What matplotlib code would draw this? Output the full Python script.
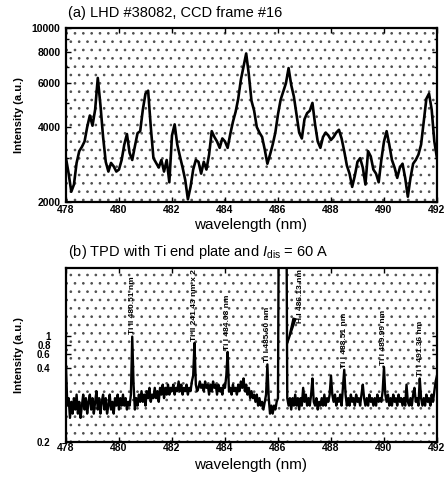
import numpy as np
import matplotlib
matplotlib.use("Agg")
import matplotlib.pyplot as plt
from matplotlib.patches import Rectangle

plt.rcParams['font.family'] = ['Liberation Sans', 'DejaVu Sans']
plt.rcParams['mathtext.fontset'] = 'custom'
plt.rcParams['mathtext.rm'] = 'Liberation Sans'
plt.rcParams['mathtext.it'] = 'Liberation Sans:italic'
plt.rcParams['hatch.linewidth'] = 0.7

# (a) LHD spectrum, 0.1 nm sampling
wl_a = np.linspace(478.0, 492.0, 141)
counts_a = [
    3000, 2600, 2200, 2350, 2870, 3200, 3330, 3500, 4000, 4450,
    4050, 4700, 6300, 4900, 3650, 2900, 2650, 2870, 2780, 2650,
    2700, 2950, 3400, 3750, 3150, 2950, 3350, 3780, 3850, 4700,
    5450, 5600, 4000, 3000, 2870, 2750, 2950, 2650, 2950, 2400,
    3700, 4100, 3400, 3050, 2750, 2450, 2050, 2300, 2700, 2950,
    2900, 2600, 2900, 2700, 3100, 3850, 3650, 3500, 3300, 3600,
    3500, 3300, 3750, 4200, 4600, 5200, 6200, 7000, 7900, 6500,
    5100, 4650, 4000, 3800, 3650, 3250, 2850, 3100, 3400, 3800,
    4500, 5150, 5550, 6000, 6900, 5900, 5300, 4500, 3800, 3600,
    4300, 4550, 4650, 5000, 4100, 3500, 3300, 3650, 3800, 3700,
    3550, 3650, 3800, 3900, 3600, 3200, 2800, 2600, 2300, 2550,
    2900, 3000, 2750, 2350, 3200, 3050, 2700, 2600, 2400, 2950,
    3500, 3850, 3400, 2950, 2750, 2500, 2750, 2850, 2500, 2100,
    2500, 2850, 2950, 3100, 3400, 4200, 5200, 5450, 4700, 3500,
    3000,
]

# (b) TPD spectrum, 0.05 nm sampling
wl_b = np.linspace(478.0, 492.0, 281)
int_b = [
    0.40, 0.28, 0.30, 0.25, 0.29, 0.26, 0.30, 0.27, 0.31, 0.26, 0.29, 0.25, 0.28, 0.31, 0.27, 0.30, 0.26, 0.29, 0.31, 0.27,
    0.30, 0.26, 0.29, 0.32, 0.27, 0.30, 0.26, 0.29, 0.31, 0.27, 0.30, 0.26, 0.28, 0.31, 0.27, 0.29, 0.26, 0.30, 0.28, 0.31,
    0.27, 0.30, 0.28, 0.31, 0.28, 0.30, 0.27, 0.29, 0.28, 0.31, 0.53, 0.34, 0.27, 0.30, 0.28, 0.31, 0.29, 0.32, 0.29, 0.31,
    0.28, 0.32, 0.30, 0.33, 0.29, 0.31, 0.30, 0.33, 0.30, 0.32, 0.29, 0.33, 0.31, 0.34, 0.30, 0.33, 0.31, 0.34, 0.31, 0.33,
    0.32, 0.34, 0.31, 0.33, 0.32, 0.35, 0.32, 0.34, 0.31, 0.33, 0.32, 0.34, 0.31, 0.33, 0.32, 0.35, 0.37, 0.50, 0.34, 0.32,
    0.33, 0.35, 0.33, 0.34, 0.32, 0.35, 0.33, 0.34, 0.31, 0.34, 0.32, 0.35, 0.33, 0.34, 0.31, 0.34, 0.32, 0.33, 0.31, 0.34,
    0.33, 0.37, 0.46, 0.32, 0.33, 0.31, 0.34, 0.32, 0.33, 0.31, 0.34, 0.32, 0.35, 0.33, 0.36, 0.32, 0.34, 0.31, 0.33, 0.30,
    0.32, 0.30, 0.31, 0.29, 0.31, 0.28, 0.30, 0.28, 0.29, 0.27, 0.29, 0.31, 0.41, 0.30, 0.26, 0.28, 0.26, 0.28, 0.27, 0.29,
    0.30, 5.00, 5.00, 5.00, 5.00, 5.00, 5.00, 0.30, 0.28, 0.30, 0.27, 0.30, 0.28, 0.31, 0.28, 0.30, 0.27, 0.30, 0.28, 0.33,
    0.29, 0.31, 0.28, 0.30, 0.28, 0.31, 0.36, 0.29, 0.28, 0.30, 0.27, 0.29, 0.28, 0.30, 0.28, 0.31, 0.28, 0.30, 0.29, 0.31,
    0.37, 0.31, 0.29, 0.31, 0.28, 0.30, 0.29, 0.31, 0.28, 0.33, 0.39, 0.31, 0.28, 0.30, 0.28, 0.31, 0.29, 0.30, 0.28, 0.31,
    0.29, 0.30, 0.28, 0.31, 0.34, 0.30, 0.28, 0.30, 0.28, 0.31, 0.29, 0.30, 0.28, 0.30, 0.28, 0.31, 0.29, 0.30, 0.29, 0.32,
    0.40, 0.31, 0.29, 0.31, 0.28, 0.30, 0.28, 0.31, 0.29, 0.30, 0.28, 0.31, 0.29, 0.30, 0.28, 0.30, 0.28, 0.34, 0.29, 0.28,
    0.30, 0.28, 0.31, 0.33, 0.29, 0.30, 0.28, 0.36, 0.30, 0.28, 0.30, 0.28, 0.31, 0.29, 0.30, 0.28, 0.31, 0.29, 0.32, 0.35,
    0.37,
]

# identified emission lines in (b)
line_wl = [480.51, 482.86, 484.08, 485.60, 488.51, 489.99, 491.36]
line_names = ["Ti II 480.51 nm", "Ti II 241.43 nm x 2", "Ti I 484.08 nm",
              "Ti I 485.60 nm", "Ti I 488.51 nm", "Ti I 489.99 nm",
              "Ti I 491.36 nm"]
h_wl = 486.13
h_name = "H I 486.13 nm"

x_ticks = [478, 480, 482, 484, 486, 488, 490, 492]
ya_ticks = [2000, 4000, 6000, 8000, 10000]
yb_labels = ["0.2", "0.4", "0.6", "0.8", "1"]
yb_ticks = [0.2, 0.397, 0.451, 0.492, 0.533]


def stipple(ax):
    ax.add_patch(Rectangle((0, 0), 1, 1, transform=ax.transAxes, fill=False,
                           hatch='..', edgecolor='#505050', lw=0, zorder=0))


def frame(ax, ysize=7.5):
    for s in ax.spines.values():
        s.set_linewidth(1.6)
    ax.tick_params(which='both', direction='in', top=True, right=True,
                   width=1.0, labelsize=7.5)
    ax.tick_params(axis='y', labelsize=ysize)
    ax.tick_params(which='major', length=3.5)
    ax.tick_params(which='minor', length=2)
    for lab in ax.get_xticklabels() + ax.get_yticklabels():
        lab.set_fontweight('bold')


fig = plt.figure(figsize=(4.48, 4.80), dpi=100)
ax1 = fig.add_axes([0.1473, 0.5792, 0.8281, 0.3625])
ax2 = fig.add_axes([0.1473, 0.0792, 0.8281, 0.3625])

# ---- (a)
stipple(ax1)
ax1.plot(wl_a, counts_a, color='black', lw=1.9, zorder=3)
ax1.set_yscale('log')
ax1.set_xlim(478, 492)
ax1.set_ylim(2000, 10000)
ax1.set_xticks(x_ticks)
ax1.set_yticks(ya_ticks)
ax1.set_yticklabels([str(v) for v in ya_ticks])
ax1.set_yticks([3000, 5000, 7000, 9000], minor=True)
ax1.yaxis.set_minor_formatter(plt.NullFormatter())
frame(ax1)
ax1.tick_params(axis='x', pad=2)
ax1.tick_params(axis='y', pad=4)

# ---- (b)
stipple(ax2)
ax2.plot(wl_b, int_b, color='black', lw=1.7, zorder=3)
ax2.set_yscale('log')
ax2.set_xlim(478, 492)
ax2.set_ylim(0.2, 1.0)
ax2.set_xticks(x_ticks)
ax2.set_yticks(yb_ticks)
ax2.set_yticklabels(yb_labels)
ax2.yaxis.set_minor_locator(plt.NullLocator())
frame(ax2, ysize=7.0)
ax2.tick_params(axis='x', pad=1)
ax2.tick_params(axis='y', pad=11)

wl_arr = np.asarray(wl_b)
int_arr = np.asarray(int_b)
for wl, name in zip(line_wl, line_names):
    near = np.abs(wl_arr - wl) < 0.06
    top = int_arr[near].max()
    ax2.text(wl, top * 1.02, name, rotation=90, ha='center', va='bottom',
             fontsize=6.0, fontweight='bold', zorder=4)

ax2.annotate(h_name, xy=(486.34, 0.49), xytext=(486.86, 0.60),
             rotation=90, ha='center', va='bottom', fontsize=6.0,
             fontweight='bold', zorder=4,
             arrowprops=dict(arrowstyle='wedge,tail_width=0.35',
                             color='black', shrinkA=0, shrinkB=0))

# titles and axis labels
fig.text(68 / 448, 1 - 13 / 480, "(a) LHD #38082, CCD frame #16",
         fontsize=10.5, va='center', ha='left')
fig.text(68 / 448, 1 - 252 / 480,
         r"(b) TPD with Ti end plate and $I_{\rm dis}$ = 60 A",
         fontsize=10.5, va='center', ha='left')
for yc in (115, 355):
    fig.text(19 / 448, 1 - yc / 480, "Intensity (a.u.)", rotation=90,
             fontsize=8, fontweight='bold', ha='center', va='center')
for yc in (225, 465):
    fig.text(251 / 448, 1 - yc / 480, "wavelength (nm)", fontsize=11,
             ha='center', va='center')

fig.savefig("out.png", dpi=100)
